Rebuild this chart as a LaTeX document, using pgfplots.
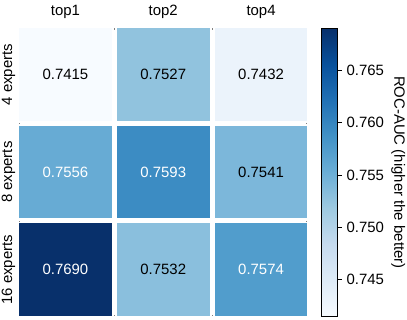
\documentclass[border=0pt]{standalone}
\usepackage{pgfplots}
\pgfplotsset{compat=1.18}
\usepackage{fontspec}
\setmainfont{Liberation Sans}
\newcommand{\cf}{\fontsize{11.2}{13.4}\selectfont}
\pgfplotsset{
  colormap={blues}{rgb255=(247,251,255) rgb255=(222,235,247) rgb255=(198,219,239) rgb255=(158,202,225) rgb255=(107,174,214) rgb255=(66,146,198) rgb255=(33,113,181) rgb255=(8,81,156) rgb255=(8,48,107)}
}
\begin{document}
\begin{tikzpicture}
\begin{axis}[
  at={(0,0)}, anchor=south west,
  scale only axis,
  width=220.1pt, height=219.5pt,
  xmin=-0.5, xmax=2.5, ymin=-0.5, ymax=2.5,
  axis line style={white, line width=3.75pt},
  major tick length=0pt,
  xtick={0,1,2}, xticklabels={top1,top2,top4},
  ytick={0,1,2}, yticklabels={16 experts,8 experts,4 experts},
  xticklabel pos=right,
  xticklabel style={font=\cf, anchor=base, yshift=8.1pt},
  yticklabel style={font=\cf, xshift=-3.375pt, rotate=90, anchor=base},
  minor xtick={0.5,1.5}, minor ytick={0.5,1.5},
  grid=minor,
  minor grid style={white, line width=3.75pt},
  axis on top,
  colormap name=blues,
  point meta min=0.7415, point meta max=0.7690,
  colorbar,
  colorbar style={
    at={(parent axis.north east)}, anchor=north west, xshift=0.46pt, yshift=-1.875pt,
    scale only axis, width=12pt, height=216pt,
    axis line style={black, line width=0.8pt},
    ytick={0.745,0.750,0.755,0.760,0.765},
    yticklabels={0.745,0.750,0.755,0.760,0.765},
    ytick pos=right, yticklabel pos=right,
    tick align=outside, major tick length=3pt,
    tick style={black, line width=0.6pt},
    yticklabel style={font=\cf},
    ylabel={ROC-AUC (higher the better)},
    every axis y label/.style={at={(axis description cs:4.53,0.5)}, rotate=-90, anchor=base, font=\cf},
  },
]
\addplot[matrix plot*, mesh/cols=3, point meta=explicit] table[meta=c] {
x y c
0 0 0.7690
1 0 0.7532
2 0 0.7574
0 1 0.7556
1 1 0.7593
2 1 0.7541
0 2 0.7415
1 2 0.7527
2 2 0.7432
};
\addplot[draw=none, mark=none, nodes near coords, nodes near coords align=center,
  point meta=explicit symbolic,
  every node near coord/.append style={font=\cf, text=black}] table[meta=t] {
x y t
1 0 0.7532
2 1 0.7541
0 2 0.7415
1 2 0.7527
2 2 0.7432
};
\addplot[draw=none, mark=none, nodes near coords, nodes near coords align=center,
  point meta=explicit symbolic,
  every node near coord/.append style={font=\cf, text=white}] table[meta=t] {
x y t
0 0 0.7690
2 0 0.7574
0 1 0.7556
1 1 0.7593
};
\end{axis}
\pgfresetboundingbox
\path (-12.375pt,-1.125pt) rectangle (292.875pt,238.875pt);
\end{tikzpicture}
\end{document}
